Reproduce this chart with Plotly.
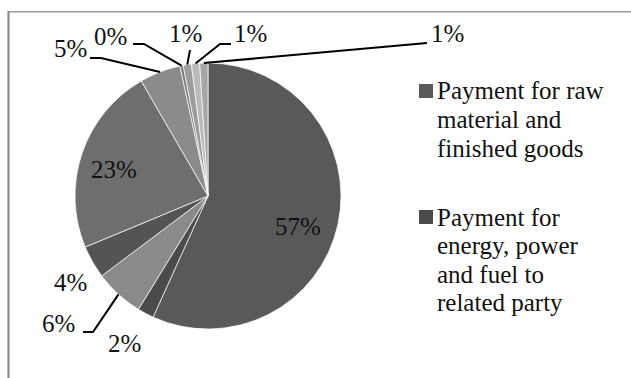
import math
import textwrap
import plotly.graph_objects as go

# Shares of payments (percent of total)
categories = [
    "Payment for raw material and finished goods",
    "Payment for energy, power and fuel to related party",
    "Category 3", "Category 4", "Category 5", "Category 6",
    "Category 7", "Category 8", "Category 9", "Category 10",
]
values = [57, 2, 6, 4, 23, 5, 0.4, 1, 1, 1]
colors = ["#595959", "#4b4b4b", "#8a8a8a", "#545454", "#6e6e6e",
          "#8b8b8b", "#7c7c7c", "#9c9c9c", "#bababa", "#a6a6a6"]
legend_count = 2  # only the first two entries fit in the legend box

W, H = 631, 378
CX, CY, R = 208, 196, 133          # pie centre and radius, pixels
SERIF = "Liberation Serif"


def px(x):
    return x / W


def py(y):
    return 1 - y / H


total = sum(values)
shares = [v / total for v in values]

# mid-angle of every slice, clockwise from 12 o'clock
mids, acc = [], 0.0
for s in shares:
    mids.append((acc + s / 2) * 2 * math.pi)
    acc += s


def rim(i):
    a = mids[i]
    return CX + R * math.sin(a), CY - R * math.cos(a)


fig = go.Figure(go.Pie(
    labels=categories,
    values=values,
    sort=False,
    direction="clockwise",
    rotation=0,
    textinfo="none",
    hoverinfo="label+percent",
    showlegend=False,
    marker=dict(colors=colors, line=dict(color="#ffffff", width=0.7)),
    domain=dict(x=[px(CX - R), px(CX + R)], y=[py(CY + R), py(CY - R)]),
))

# label placement: text centre, plus optional leader start / elbow points
placement = {
    0: dict(xy=(298, 226)),
    1: dict(xy=(124, 343)),
    2: dict(xy=(59, 323), lead=[(83, 332), (93, 332)]),
    3: dict(xy=(70, 282)),
    4: dict(xy=(114, 169)),
    5: dict(xy=(70, 48), lead=[(90, 58), (101, 58)]),
    6: dict(xy=(110, 36), lead=[(133, 44), (144, 44)]),
    7: dict(xy=(185, 33), lead=[(190, 50)]),
    8: dict(xy=(250, 33), lead=[(231, 44), (220, 44)]),
    9: dict(xy=(447, 33), lead=[(427, 43)]),
}

annotations, shapes = [], []
for i, s in enumerate(shares):
    spec = placement[i]
    x, y = spec["xy"]
    annotations.append(dict(
        text=f"{round(s * 100)}%", x=px(x), y=py(y), xref="paper", yref="paper",
        xanchor="center", yanchor="middle", showarrow=False,
        font=dict(family=SERIF, size=25),
    ))
    if "lead" in spec:
        pts = spec["lead"] + [rim(i)]
        path = "M " + " L ".join(f"{px(a):.5f},{py(b):.5f}" for a, b in pts)
        shapes.append(dict(type="path", path=path, xref="paper", yref="paper",
                           line=dict(color="#000000", width=2)))

# legend drawn as squares with wrapped text lines
leg_top = [91, 217]
for k in range(legend_count):
    y0 = leg_top[k]
    shapes.append(dict(type="rect", xref="paper", yref="paper",
                       x0=px(419), x1=px(433), y0=py(y0 - 7), y1=py(y0 + 7),
                       fillcolor=colors[k], line=dict(width=0)))
    for j, line in enumerate(textwrap.wrap(categories[k], 15)):
        annotations.append(dict(
            text=line, x=px(435), y=py(y0 + j * 28.5), xref="paper", yref="paper",
            xanchor="left", yanchor="middle", showarrow=False,
            font=dict(family=SERIF, size=25),
        ))

# chart frame edges
shapes.append(dict(type="line", xref="paper", yref="paper",
                   x0=px(8), x1=1, y0=py(11.7), y1=py(11.7),
                   line=dict(color="#999999", width=1.4)))
shapes.append(dict(type="line", xref="paper", yref="paper",
                   x0=px(8.5), x1=px(8.5), y0=py(11), y1=0,
                   line=dict(color="#8c8c8c", width=2.2)))

fig.update_layout(
    width=W, height=H,
    margin=dict(l=0, r=0, t=0, b=0),
    paper_bgcolor="white", plot_bgcolor="white",
    font=dict(family=SERIF, color="#111111"),
    annotations=annotations, shapes=shapes,
)

fig.write_html("out.html")
